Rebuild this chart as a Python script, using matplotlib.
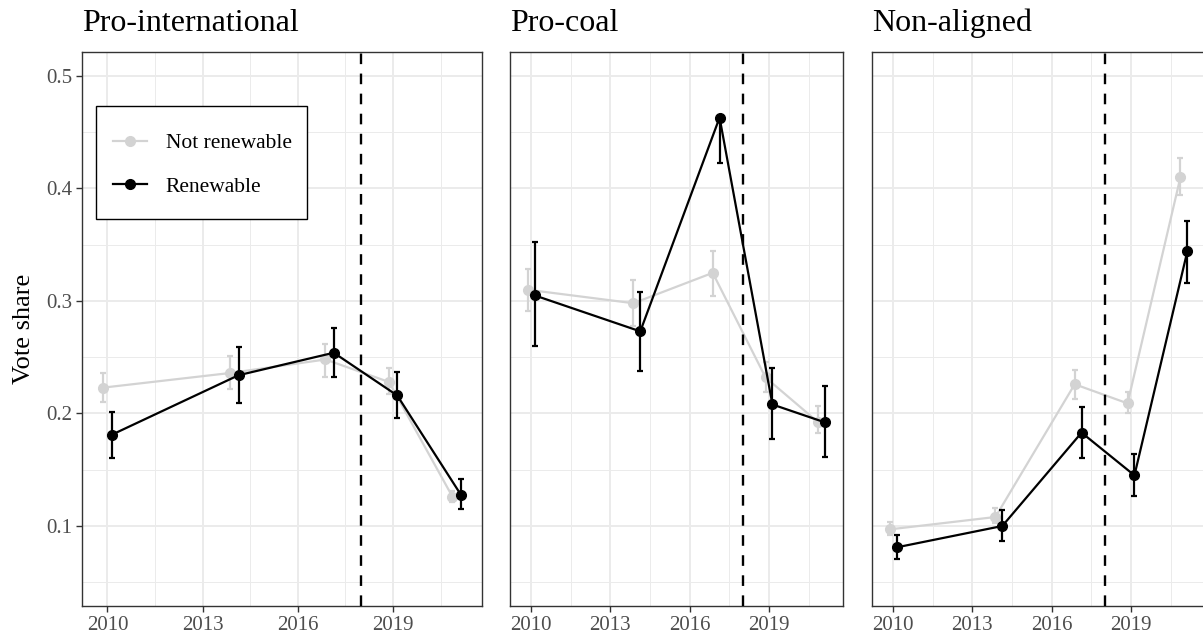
import matplotlib
matplotlib.use("Agg")
from matplotlib import pyplot as plt
from matplotlib.patches import Rectangle
import numpy as np

plt.rcParams['font.family'] = ['Liberation Serif', 'DejaVu Serif']

# election years and party groups
years = np.array([2010, 2014, 2017, 2019, 2021])
groups = ['Pro-international', 'Pro-coal', 'Non-aligned']

# vote share, with lower / upper bounds of the interval
intl_not = [0.223, 0.236, 0.248, 0.228, 0.126]
intl_not_lo = [0.210, 0.222, 0.232, 0.217, 0.121]
intl_not_hi = [0.236, 0.251, 0.262, 0.240, 0.131]
intl_ren = [0.181, 0.234, 0.254, 0.216, 0.128]
intl_ren_lo = [0.160, 0.209, 0.232, 0.196, 0.115]
intl_ren_hi = [0.201, 0.259, 0.276, 0.237, 0.142]

coal_not = [0.310, 0.298, 0.325, 0.232, 0.192]
coal_not_lo = [0.291, 0.278, 0.304, 0.219, 0.183]
coal_not_hi = [0.328, 0.319, 0.344, 0.246, 0.207]
coal_ren = [0.305, 0.273, 0.463, 0.208, 0.192]
coal_ren_lo = [0.260, 0.238, 0.423, 0.177, 0.161]
coal_ren_hi = [0.352, 0.308, 0.463, 0.240, 0.224]

non_not = [0.097, 0.108, 0.226, 0.209, 0.410]
non_not_lo = [0.092, 0.103, 0.213, 0.200, 0.394]
non_not_hi = [0.104, 0.116, 0.239, 0.219, 0.427]
non_ren = [0.081, 0.100, 0.183, 0.145, 0.344]
non_ren_lo = [0.071, 0.087, 0.160, 0.127, 0.316]
non_ren_hi = [0.092, 0.114, 0.206, 0.164, 0.371]

not_series = [(intl_not, intl_not_lo, intl_not_hi),
              (coal_not, coal_not_lo, coal_not_hi),
              (non_not, non_not_lo, non_not_hi)]
ren_series = [(intl_ren, intl_ren_lo, intl_ren_hi),
              (coal_ren, coal_ren_lo, coal_ren_hi),
              (non_ren, non_ren_lo, non_ren_hi)]

cutoff_year = 2018
dodge = 0.13

W, H = 1203, 640
fig = plt.figure(figsize=(W / 100, H / 100), dpi=100)

# panel boxes in pixels: left, width
boxes = [(82, 400), (510, 333), (872, 333)]
top_px, bottom_px = 52, 606

axes = []
for i, (left, width) in enumerate(boxes):
    ax = fig.add_axes([left / W, 1 - bottom_px / H, width / W, (bottom_px - top_px) / H])
    axes.append(ax)

    ax.set_xlim(2009.2, 2021.8)
    ax.set_ylim(0.0289, 0.5213)
    ax.set_xticks([2010, 2013, 2016, 2019])
    ax.set_xticks([2011.5, 2014.5, 2017.5, 2020.5], minor=True)
    ax.set_yticks([0.1, 0.2, 0.3, 0.4, 0.5])
    ax.set_yticks([0.05, 0.15, 0.25, 0.35, 0.45], minor=True)
    ax.set_yticklabels(['0.1', '0.2', '0.3', '0.4', '0.5'])

    ax.grid(which='major', color='#ebebeb', linewidth=1.4, zorder=0)
    ax.grid(which='minor', color='#ebebeb', linewidth=0.7, zorder=0)
    ax.set_axisbelow(True)
    for s in ax.spines.values():
        s.set_color('#333333')
        s.set_linewidth(1.0)
    ax.tick_params(which='major', length=4, width=1.0, color='#333333',
                   labelsize=15, labelcolor='#4d4d4d', pad=3)
    ax.tick_params(which='minor', length=0)
    if i > 0:
        ax.tick_params(axis='y', which='both', left=False, labelleft=False)

    ax.set_title(groups[i], loc='left', fontsize=23, pad=15)

    y, lo, hi = [np.array(v) for v in not_series[i]]
    ax.errorbar(years - dodge, y, yerr=[y - lo, hi - y], color='#d3d3d3',
                linewidth=1.6, elinewidth=1.6, capsize=2.2, capthick=1.6,
                marker='o', markersize=7, zorder=3, label='Not renewable')
    y, lo, hi = [np.array(v) for v in ren_series[i]]
    ax.errorbar(years + dodge, y, yerr=[y - lo, hi - y], color='black',
                linewidth=1.6, elinewidth=1.6, capsize=2.2, capthick=1.6,
                marker='o', markersize=7, zorder=4, label='Renewable')

    ax.axvline(cutoff_year, color='black', linewidth=1.7, linestyle=(0, (4.5, 4)), zorder=5)

axes[0].set_ylabel('Vote share', fontsize=19, labelpad=8)

# legend: entries without frame, box drawn separately
ax0 = axes[0]
handles, labels = ax0.get_legend_handles_labels()
handles = [h[0] for h in handles]
leg = ax0.legend(handles, labels, loc='center left', bbox_to_anchor=(0.0775, 0.7960),
                 borderaxespad=0, borderpad=0, fontsize=15.5, frameon=False,
                 labelspacing=1.08, handlelength=1.6, handletextpad=0.85)
leg.set_zorder(6)
ax0.add_patch(Rectangle((0.035, 0.6986), 0.5275, 0.2039, transform=ax0.transAxes,
                        facecolor='white', edgecolor='black', linewidth=1.0, zorder=5.5))

fig.savefig('out.png', dpi=100)
